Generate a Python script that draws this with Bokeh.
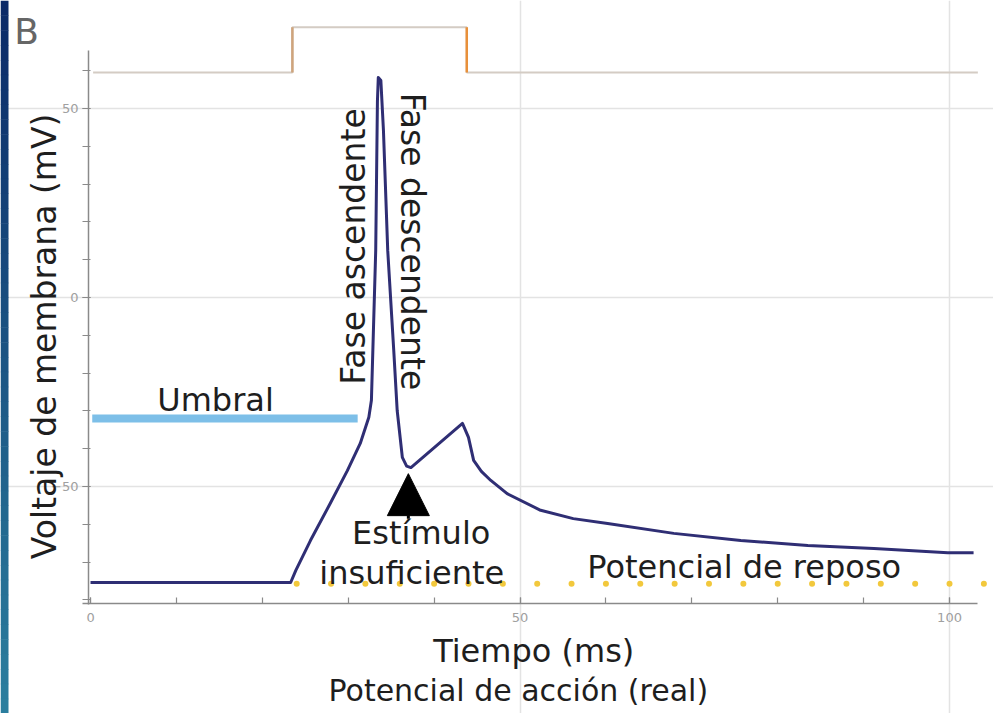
import math
from bokeh.plotting import figure
from bokeh.models import Label, Arrow, NormalHead, FixedTicker, Range1d
from bokeh.embed import file_html
from bokeh.resources import INLINE

# ---- data ----
# membrane voltage trace (ms, mV)
t_ms = [0.0, 23.3, 23.9, 25.6, 27.9, 29.9, 31.4, 32.4, 32.7, 33.2,
        33.4, 33.5, 33.8, 34.1, 34.6, 35.3, 35.7, 36.3, 36.8, 37.3,
        43.3, 44.0, 44.6, 45.5, 46.6, 48.5, 52.4, 56.2, 60.2, 67.9,
        75.7, 83.5, 91.2, 99.8, 102.8]
v_mv = [-75.4, -75.4, -72.2, -64.3, -54.5, -45.8, -38.6, -31.7, -27.2, 12.4,
        52.0, 58.2, 57.4, 44.2, 12.4, -14.0, -29.9, -42.3, -44.6, -45.0,
        -33.3, -37.0, -43.1, -46.0, -48.4, -51.9, -56.3, -58.5, -59.8, -62.4,
        -64.3, -65.6, -66.4, -67.5, -67.5]

# stimulus trace (drawn in the mV frame above the plot)
stim_t = [0.3, 23.5, 23.5, 43.8, 43.8, 103.3]
stim_v = [59.5, 59.5, 71.5, 71.5, 59.5, 59.5]
stim_edges = [23.5, 43.8]
stim_low = 59.5
stim_high = 71.5

# threshold ("Umbral")
umbral_t = [0.2, 31.1]
umbral_v = [-32.0, -32.0]

# resting potential dots
rest_dot_t = [24, 28, 32, 36, 40, 44, 48, 52, 56, 60, 64, 68, 72, 76, 80,
              84, 88, 92, 96, 100, 104]
rest_dot_v = [-75.7] * len(rest_dot_t)

# arrow (insufficient stimulus)
arrow_t = 37.0
arrow_from = -58.5
arrow_to = -46.6

x_major = [0, 50, 100]
x_minor = [0, 10, 20, 30, 40, 50, 60, 70, 80, 90, 100]
y_major = [-50, 0, 50]
y_minor = [-80, -70, -60, -50, -40, -30, -20, -10, 0, 10, 20, 30, 40, 50, 60]

FONT = "DejaVu Sans"
TXT = "#1e1e1e"

X0, X1 = -10.48, 105.12
Y0, Y1 = -110.05, 78.57
W, H = 993, 713

p = figure(width=W, height=H, output_backend="svg", toolbar_location=None,
           x_range=Range1d(X0, X1), y_range=Range1d(Y0, Y1),
           min_border=0, min_border_left=0, min_border_right=0,
           min_border_top=0, min_border_bottom=0)
p.outline_line_color = None
p.background_fill_color = "white"
p.border_fill_color = "white"

# left decorative gradient strip (8 px wide)
ms_per_px = (X1 - X0) / W
mv_per_px = (Y1 - Y0) / H
n_steps = 48
c_top = (11, 42, 104)
c_bot = (43, 126, 158)
strip_bottom, strip_top, strip_col = [], [], []
for i in range(n_steps):
    f = i / (n_steps - 1)
    col = tuple(int(round(c_top[k] + (c_bot[k] - c_top[k]) * f)) for k in range(3))
    strip_top.append(Y1 - (Y1 - Y0) * i / n_steps)
    strip_bottom.append(Y1 - (Y1 - Y0) * (i + 1) / n_steps - mv_per_px * 0.5)
    strip_col.append("#%02x%02x%02x" % col)
p.quad(left=[X0] * n_steps, right=[X0 + 8 * ms_per_px] * n_steps,
       bottom=strip_bottom, top=strip_top, fill_color=strip_col, line_color=None)

# axes, drawn at fixed data locations inside the frame
p.xaxis.fixed_location = -80.95
p.yaxis.fixed_location = -0.23
p.xaxis.ticker = FixedTicker(ticks=x_major, minor_ticks=x_minor)
p.yaxis.ticker = FixedTicker(ticks=y_major, minor_ticks=y_minor)
p.xaxis.bounds = (-0.9, 103.3)
p.yaxis.bounds = (-81.3, 65.3)
for ax in (p.xaxis[0], p.yaxis[0]):
    ax.axis_line_color = "#8a8a8a"
    ax.axis_line_width = 1.5
    ax.major_tick_line_color = "#8a8a8a"
    ax.minor_tick_line_color = "#8a8a8a"
    ax.major_tick_line_width = 1.2
    ax.minor_tick_line_width = 1.2
    ax.major_label_text_font = FONT
    ax.major_label_text_font_size = "13px"
    ax.major_label_text_color = "#a0a0a0"
p.xaxis.major_tick_in = 6
p.xaxis.major_tick_out = 0
p.xaxis.minor_tick_in = 6
p.xaxis.minor_tick_out = 0
p.xaxis.major_label_standoff = 10
p.yaxis.major_tick_in = 2
p.yaxis.major_tick_out = 6
p.yaxis.minor_tick_in = 2
p.yaxis.minor_tick_out = 6
p.yaxis.major_label_standoff = 4

# grid
p.xgrid.ticker = FixedTicker(ticks=[50, 100])
p.ygrid.ticker = FixedTicker(ticks=y_major)
p.grid.grid_line_color = "#e3e3e3"
p.grid.grid_line_width = 1.5
p.xgrid.bounds = (-80.95, 62)
p.ygrid.bounds = (0, 103.3)

# stimulus trace
p.line(stim_t, stim_v, line_color="#d4ccc4", line_width=2)
p.segment(x0=[stim_edges[0]], y0=[stim_low], x1=[stim_edges[0]], y1=[stim_high],
          line_color="#cfa47c", line_width=2.5)
p.segment(x0=[stim_edges[1]], y0=[stim_low], x1=[stim_edges[1]], y1=[stim_high],
          line_color="#e8903a", line_width=2.5)

# threshold
p.line(umbral_t, umbral_v, line_color="#7dbfe8", line_width=8, line_cap="butt")

# resting dots
p.scatter(rest_dot_t, rest_dot_v, size=6, color="#f2c83c", line_color=None)

# membrane trace
p.line(t_ms, v_mv, line_color="#2f2e74", line_width=3, line_join="round")

# arrow
p.add_layout(Arrow(end=NormalHead(size=42, fill_color="black", line_color="black"),
                   x_start=arrow_t, y_start=arrow_from, x_end=arrow_t, y_end=arrow_to,
                   line_color="black", line_width=3))


def lab(x, y, text, size="32px", angle=0.0, color=TXT, align="center"):
    p.add_layout(Label(x=x, y=y, text=text, text_font=FONT, text_font_size=size,
                       text_color=color, angle=angle, text_align=align,
                       text_baseline="middle"))


lab(-7.45, 70.4, "B", size="36px", color="#666666")
lab(-5.4, -10.3, "Voltaje de membrana (mV)", size="33px", angle=math.pi / 2)
lab(51.6, -93.4, "Tiempo (ms)", size="32px")
lab(49.8, -104.0, "Potencial de acción (real)", size="30px")
lab(14.55, -27.2, "Umbral", size="32px")
lab(30.6, 13.5, "Fase ascendente", size="33px", angle=math.pi / 2)
lab(37.5, 14.8, "Fase descendente", size="33px", angle=-math.pi / 2)
lab(38.5, -62.2, "Estímulo", size="32px")
lab(37.4, -72.75, "insuficiente", size="32px")
lab(76.1, -71.4, "Potencial de reposo", size="32px")

open("out.html", "w").write(file_html(p, INLINE))
